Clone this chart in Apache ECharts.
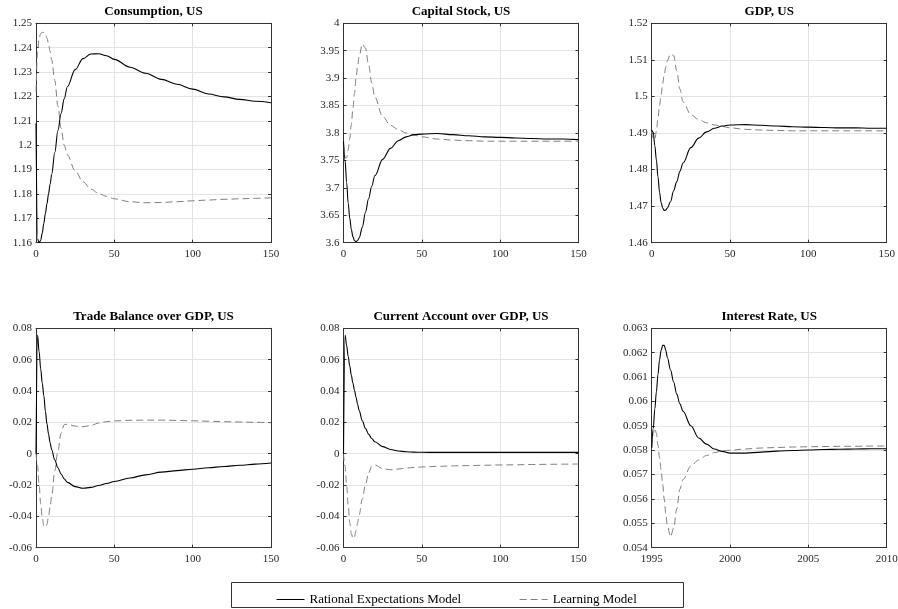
<!DOCTYPE html>
<html>
<head>
<meta charset="utf-8">
<script src="https://cdn.jsdelivr.net/npm/echarts@6/dist/echarts.min.js"></script>
<style>
  html, body { margin: 0; padding: 0; background: #fff; }
  #chart { width: 898px; height: 609px; }
</style>
</head>
<body>
<div id="chart"></div>
<script>
// periods after the shock (x axis of every panel)
const periods = [0, 1, 2, 3, 4, 5, 6, 7, 8, 9, 10, 12, 14, 16, 18, 20, 25, 30, 35, 40, 45, 50, 60, 70, 80, 90, 100, 110, 120, 130, 140, 150]

// RE = Rational Expectations Model, LM = Learning Model
const consumptionRE = [1.209, 1.1615, 1.160, 1.161, 1.164, 1.168, 1.172, 1.176, 1.180, 1.184, 1.188, 1.197, 1.206, 1.213, 1.219, 1.224, 1.231, 1.2355, 1.2374, 1.2375, 1.2367, 1.2352, 1.232, 1.2295, 1.227, 1.225, 1.223, 1.221, 1.2198, 1.2188, 1.218, 1.2174]
const consumptionLM = [1.222, 1.238, 1.244, 1.2458, 1.2463, 1.2462, 1.2455, 1.244, 1.2415, 1.2385, 1.235, 1.2265, 1.216, 1.207, 1.200, 1.196, 1.1895, 1.185, 1.182, 1.1802, 1.179, 1.178, 1.1768, 1.1764, 1.1765, 1.1768, 1.1772, 1.1775, 1.1778, 1.178, 1.1782, 1.1784]

const capitalRE = [3.785, 3.75, 3.71, 3.672, 3.645, 3.624, 3.611, 3.604, 3.602, 3.604, 3.609, 3.628, 3.655, 3.68, 3.703, 3.722, 3.752, 3.772, 3.786, 3.793, 3.797, 3.798, 3.799, 3.797, 3.795, 3.793, 3.792, 3.791, 3.790, 3.789, 3.789, 3.788]
const capitalLM = [3.78, 3.755, 3.755, 3.77, 3.79, 3.815, 3.845, 3.872, 3.9, 3.922, 3.94, 3.962, 3.955, 3.925, 3.892, 3.865, 3.83, 3.814, 3.806, 3.8, 3.796, 3.793, 3.789, 3.787, 3.786, 3.785, 3.785, 3.785, 3.785, 3.785, 3.785, 3.785]

const gdpRE = [1.4908, 1.4902, 1.4865, 1.4826, 1.478, 1.4738, 1.471, 1.4695, 1.4688, 1.4689, 1.4695, 1.4712, 1.4742, 1.4767, 1.4795, 1.4818, 1.486, 1.4886, 1.4903, 1.4913, 1.4919, 1.4922, 1.4923, 1.4921, 1.4919, 1.4917, 1.4916, 1.4915, 1.4914, 1.4914, 1.4913, 1.4913]
const gdpLM = [1.4905, 1.4885, 1.4882, 1.4905, 1.494, 1.4975, 1.5005, 1.5035, 1.506, 1.508, 1.5098, 1.5116, 1.5112, 1.507, 1.502, 1.4985, 1.495, 1.4937, 1.4928, 1.4922, 1.4918, 1.4914, 1.491, 1.4908, 1.4907, 1.4906, 1.4906, 1.4906, 1.4906, 1.4906, 1.4906, 1.4906]

const tradeRE = [0, 0.0757, 0.065, 0.054, 0.045, 0.037, 0.027, 0.019, 0.0125, 0.007, 0.0025, -0.004, -0.009, -0.013, -0.016, -0.0183, -0.021, -0.0221, -0.0215, -0.0203, -0.019, -0.0178, -0.0155, -0.0135, -0.0118, -0.0108, -0.0099, -0.009, -0.0082, -0.0074, -0.0067, -0.006]
const tradeLM = [0, -0.008, -0.02, -0.032, -0.041, -0.046, -0.047, -0.045, -0.040, -0.034, -0.027, -0.011, 0.002, 0.013, 0.0185, 0.0188, 0.0176, 0.0172, 0.018, 0.0195, 0.0204, 0.0209, 0.0213, 0.0214, 0.0214, 0.0212, 0.021, 0.0207, 0.0204, 0.0202, 0.02, 0.0198]

const currentRE = [0, 0.0757, 0.069, 0.062, 0.056, 0.05, 0.045, 0.0405, 0.036, 0.0315, 0.0275, 0.021, 0.0162, 0.0125, 0.0097, 0.0076, 0.0045, 0.0027, 0.0017, 0.0012, 0.001, 0.0009, 0.0008, 0.0008, 0.0008, 0.0008, 0.0008, 0.0008, 0.0008, 0.0008, 0.0008, 0.0008]
const currentLM = [0, -0.008, -0.02, -0.033, -0.044, -0.051, -0.054, -0.053, -0.049, -0.044, -0.039, -0.029, -0.02, -0.0125, -0.008, -0.0072, -0.0095, -0.0103, -0.0098, -0.0092, -0.0088, -0.0085, -0.0081, -0.0078, -0.0076, -0.0074, -0.0072, -0.0071, -0.0069, -0.0068, -0.0067, -0.0066]

const interestRE = [0.0581, 0.0589, 0.0597, 0.0604, 0.0611, 0.0617, 0.0621, 0.0623, 0.0623, 0.0621, 0.0618, 0.0613, 0.0608, 0.0603, 0.0599, 0.0596, 0.059, 0.0585, 0.05825, 0.05805, 0.05795, 0.05788, 0.05788, 0.05792, 0.05796, 0.05799, 0.05801, 0.05803, 0.05804, 0.05805, 0.05806, 0.05806]
const interestLM = [0.0581, 0.0587, 0.0589, 0.0587, 0.0582, 0.0577, 0.0572, 0.0566, 0.056, 0.0554, 0.0549, 0.05445, 0.0548, 0.0556, 0.0564, 0.0568, 0.05735, 0.0576, 0.05778, 0.0579, 0.05797, 0.058, 0.05805, 0.05809, 0.05811, 0.05813, 0.05814, 0.05815, 0.05816, 0.05816, 0.05817, 0.05817]

// the interest rate panel is labelled in years instead of periods
const yearTicks = ['1995', '2000', '2005', '2010']

const seriesNames = ['Rational Expectations Model', 'Learning Model']

var chart = echarts.init(document.getElementById('chart'))

const panels = [
  { title: 'Consumption, US', re: consumptionRE, lm: consumptionLM, min: 1.16, max: 1.25, step: 0.01 },
  { title: 'Capital Stock, US', re: capitalRE, lm: capitalLM, min: 3.6, max: 4, step: 0.05 },
  { title: 'GDP, US', re: gdpRE, lm: gdpLM, min: 1.46, max: 1.52, step: 0.01 },
  { title: 'Trade Balance over GDP, US', re: tradeRE, lm: tradeLM, min: -0.06, max: 0.08, step: 0.02 },
  { title: 'Current Account over GDP, US', re: currentRE, lm: currentLM, min: -0.06, max: 0.08, step: 0.02 },
  { title: 'Interest Rate, US', re: interestRE, lm: interestLM, min: 0.054, max: 0.063, step: 0.001, years: true }
]

const colLeft = [36, 343.5, 651.7]
const rowTop = [23.3, 328.3]
const plotW = 235
const plotH = 219.4

const FONT = 'Liberation Serif'
const boxColor = '#333333'
const gridColor = '#e3e3e3'

function pairs(ys) {
  return periods.map((p, i) => [p, ys[i]])
}

function buildOption() {
  let grid = [], xAxis = [], yAxis = [], series = []
  panels.forEach((pn, i) => {
    let row = Math.floor(i / 3), col = i % 3
    grid.push({
      left: colLeft[col], top: rowTop[row], width: plotW, height: plotH,
      containLabel: false, outerBoundsMode: 'none'
    })
    let line = { show: true, onZero: false, lineStyle: { color: boxColor, width: 1 } }
    let tick = { show: true, inside: true, length: 3, lineStyle: { color: boxColor } }
    // bottom axis (labels + vertical grid)
    xAxis.push({
      type: 'value', gridIndex: i, min: 0, max: 150, interval: 50, position: 'bottom',
      axisLine: line, axisTick: tick,
      axisLabel: {
        color: '#262626', fontFamily: FONT, fontSize: 11, margin: 6,
        formatter: pn.years ? (v => yearTicks[Math.round(v / 50)]) : (v => String(v))
      },
      splitLine: { show: true, lineStyle: { color: gridColor, width: 1 } }
    })
    // top axis: box edge, ticks and the panel title
    xAxis.push({
      type: 'value', gridIndex: i, min: 0, max: 150, interval: 50, position: 'top',
      axisLine: line, axisTick: tick, axisLabel: { show: false }, splitLine: { show: false },
      name: pn.title, nameLocation: 'middle', nameGap: 5,
      nameTextStyle: { fontFamily: FONT, fontWeight: 'bold', fontSize: 13, color: '#000' }
    })
    yAxis.push({
      type: 'value', gridIndex: i, min: pn.min, max: pn.max, interval: pn.step, position: 'left',
      axisLine: line, axisTick: tick,
      axisLabel: { color: '#262626', fontFamily: FONT, fontSize: 11, margin: 4 },
      splitLine: { show: true, lineStyle: { color: gridColor, width: 1 } }
    })
    yAxis.push({
      type: 'value', gridIndex: i, min: pn.min, max: pn.max, interval: pn.step, position: 'right',
      axisLine: line, axisTick: tick, axisLabel: { show: false }, splitLine: { show: false }
    })
    series.push({
      name: seriesNames[0], type: 'line', xAxisIndex: 2 * i, yAxisIndex: 2 * i,
      data: pairs(pn.re), symbol: 'none', showSymbol: false, smooth: 0.35, smoothMonotone: 'x',
      lineStyle: { color: '#000', width: 1.1 }, itemStyle: { color: '#000' }, z: 3
    })
    series.push({
      name: seriesNames[1], type: 'line', xAxisIndex: 2 * i, yAxisIndex: 2 * i,
      data: pairs(pn.lm), symbol: 'none', showSymbol: false, smooth: 0.35, smoothMonotone: 'x',
      lineStyle: { color: '#808080', width: 1, type: [7, 4] }, itemStyle: { color: '#808080' }, z: 2
    })
  })

  return {
    animation: false,
    backgroundColor: '#fff',
    grid: grid,
    xAxis: xAxis,
    yAxis: yAxis,
    series: series,
    legend: {
      show: true,
      data: seriesNames,
      left: 271, top: 588,
      itemWidth: 28, itemHeight: 12, itemGap: 58,
      itemStyle: { opacity: 0 },
      lineStyle: { width: 1 },
      textStyle: { fontFamily: FONT, fontSize: 13, color: '#000' }
    },
    graphic: [{
      type: 'rect', silent: true, z: -1,
      shape: { x: 231.5, y: 582.5, width: 452, height: 25 },
      style: { fill: 'none', stroke: boxColor, lineWidth: 1 }
    }]
  }
}

chart.setOption(buildOption())
</script>
</body>
</html>
